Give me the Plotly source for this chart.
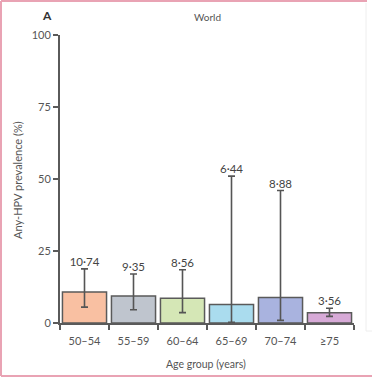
import plotly.graph_objects as go

categories = ["50–54", "55–59", "60–64", "65–69", "70–74", "≥75"]
prevalence = [10.74, 9.35, 8.56, 6.44, 8.88, 3.56]
ci_lower = [5.5, 4.6, 3.6, 0.2, 0.9, 2.3]
ci_upper = [18.8, 17.0, 18.5, 51.0, 46.0, 5.1]
labels = ["10·74", "9·35", "8·56", "6·44", "8·88", "3·56"]
colors = ["#F9C0A2", "#BFC5CE", "#D5E7B6", "#AADCEE", "#A9B3DF", "#D7AAD7"]

W, H = 372, 379
L, R, T, B = 60, 18, 35, 56

err_plus = [u - p for u, p in zip(ci_upper, prevalence)]
err_minus = [p - l for p, l in zip(prevalence, ci_lower)]

fig = go.Figure()
fig.add_trace(go.Bar(
    x=categories, y=prevalence,
    marker=dict(color=colors, line=dict(color="#5a5a5a", width=1.5)),
    width=0.9,
    error_y=dict(type="data", symmetric=False, array=err_plus, arrayminus=err_minus,
                 color="#555555", thickness=1.6, width=3.5),
    showlegend=False, hoverinfo="skip",
))
fig.add_trace(go.Scatter(
    x=categories, y=ci_upper, mode="text", text=labels,
    textposition="top center",
    textfont=dict(family="Lato", size=11.5, color="#444444"),
    showlegend=False, hoverinfo="skip", cliponaxis=False,
))

pw = W - L - R
ph = H - T - B
def px_x(x):
    return (x - L) / pw
def px_y(y):
    return (H - B - y) / ph

shapes = [
    dict(type="line", xref="paper", yref="paper", x0=px_x(1), x1=px_x(367), y0=px_y(1), y1=px_y(1),
         line=dict(color="#E9A3B4", width=2)),
    dict(type="line", xref="paper", yref="paper", x0=px_x(1), x1=px_x(1), y0=px_y(1), y1=px_y(376),
         line=dict(color="#E9A3B4", width=2)),
    dict(type="line", xref="paper", yref="paper", x0=px_x(1), x1=px_x(372), y0=px_y(376), y1=px_y(376),
         line=dict(color="#E9A3B4", width=2)),
    dict(type="line", xref="paper", yref="paper", x0=px_x(366), x1=px_x(366), y0=px_y(3), y1=px_y(331),
         line=dict(color="#EEEEEE", width=1)),
    dict(type="line", xref="paper", yref="paper", x0=px_x(366), x1=px_x(372), y0=px_y(331), y1=px_y(331),
         line=dict(color="#EEEEEE", width=1)),
]

def ann(text, x, y, size, color="#555555", angle=0):
    return dict(text=text, xref="paper", yref="paper", x=px_x(x), y=px_y(y),
                xanchor="center", yanchor="middle", showarrow=False, textangle=angle,
                font=dict(family="Lato", size=size, color=color))

fig.update_layout(
    width=W, height=H,
    margin=dict(l=L, r=R, t=T, b=B, autoexpand=False),
    paper_bgcolor="white", plot_bgcolor="white",
    font=dict(family="Lato", size=11, color="#555555"),
    shapes=shapes,
    annotations=[
        ann("<b>A</b>", 47, 16, 12, "#333333"),
        ann("World", 207, 17, 10),
        ann("Age group (years)", 206, 364, 10.5),
        ann("Any-HPV prevalence (%)", 17, 180, 11, angle=-90),
    ],
    xaxis=dict(
        type="category", showline=True, linecolor="#5a5a5a", linewidth=1.5,
        ticks="outside", tickson="boundaries", ticklen=5, tickcolor="#5a5a5a", tickwidth=1.5,
        tickfont=dict(family="Lato", size=11, color="#555555"), ticklabelstandoff=7,
        showgrid=False, zeroline=False, automargin=False,
    ),
    yaxis=dict(
        range=[0, 100], tickvals=[0, 25, 50, 75, 100],
        showline=True, linecolor="#5a5a5a", linewidth=2,
        ticks="outside", ticklen=5, tickcolor="#5a5a5a", tickwidth=1.5,
        tickfont=dict(family="Lato", size=11, color="#555555"),
        showgrid=False, zeroline=False, automargin=False,
    ),
)

fig.write_html("out.html", config={"displayModeBar": False},
               post_script="document.body.style.margin='0';document.body.style.overflow='hidden';")
